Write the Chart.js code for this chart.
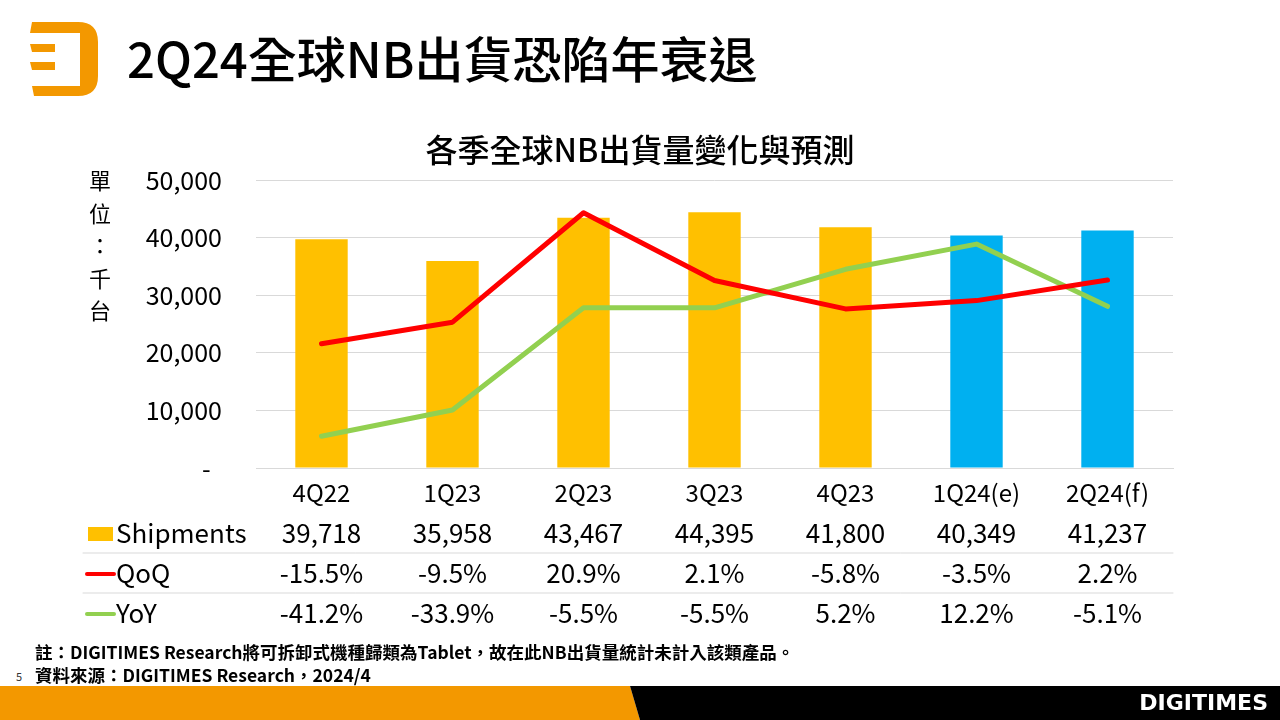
<!DOCTYPE html>
<html>
<head>
<meta charset="utf-8">
<script src="https://cdn.jsdelivr.net/npm/chart.js@4.4.1/dist/chart.umd.min.js"></script>
<style>
html, body { margin: 0; padding: 0; background: #fff; }
body { width: 1280px; height: 720px; position: relative; overflow: hidden; font-family: 'Noto Sans CJK TC', sans-serif; }
#logo { position: absolute; left: 26px; top: 20px; }
#title { position: absolute; left: 127px; top: 27px; font-size: 49px; font-weight: 500; line-height: 60px; color: #000; }
#wrap { position: absolute; left: 0; top: 120px; width: 1280px; height: 520px; }
.note { position: absolute; left: 35px; font-size: 17.5px; font-weight: bold; color: #000; line-height: 22px; white-space: nowrap; }
#page { position: absolute; left: 16px; top: 668px; font-size: 11px; color: #333; }
#bar-o { position: absolute; left: 0; top: 686px; width: 640px; height: 34px; background: #F39800; clip-path: polygon(0 0, 630px 0, 640px 34px, 0 34px); }
#bar-k { position: absolute; left: 630px; top: 686px; width: 650px; height: 34px; background: #000; clip-path: polygon(0 0, 650px 0, 650px 34px, 10px 34px); }
#brand { position: absolute; right: 12px; top: 688px; color: #fff; font-family: 'DejaVu Sans', sans-serif; font-weight: bold; font-size: 22px; line-height: 30px; }
</style>
</head>
<body>
<svg id="logo" width="76" height="80" viewBox="0 0 76 80">
  <path d="M6 2 H52 Q72 2 72 22 V56 Q72 76 52 76 H8 L6 66 H54 V13 H4 Z" fill="#F39800"/>
  <path d="M4 24 H29 V32 H6 Z" fill="#F39800"/>
  <path d="M4 42 H29 V50 H6 Z" fill="#F39800"/>
</svg>
<div id="title">2Q24全球NB出貨恐陷年衰退</div>
<div id="wrap"><canvas id="chart"></canvas></div>
<div class="note" style="top:641px;">註：DIGITIMES Research將可拆卸式機種歸類為Tablet，故在此NB出貨量統計未計入該類產品。</div>
<div id="page">5</div>
<div class="note" style="top:664px;">資料來源：DIGITIMES Research，2024/4</div>
<div id="bar-o"></div>
<div id="bar-k"></div>
<div id="brand">DIGITIMES</div>

<script>
// values
var quarters = ['4Q22', '1Q23', '2Q23', '3Q23', '4Q23', '1Q24(e)', '2Q24(f)'];
var shipments = [39718, 35958, 43467, 44395, 41800, 40349, 41237];
var qoq = [-15.5, -9.5, 20.9, 2.1, -5.8, -3.5, 2.2];
var yoy = [-41.2, -33.9, -5.5, -5.5, 5.2, 12.2, -5.1];
var unitLabel = ['單', '位', '：', '千', '台'];

var ACTUAL = '#FFC000', FORECAST = '#00B0F0';
var FONT = "'Noto Sans CJK TC', sans-serif";

function isForecast(q) { return q.indexOf('(') >= 0; }
function fmtNum(v) { return v.toLocaleString('en-US'); }
function fmtPct(v) { return v.toFixed(1) + '%'; }

// data table under the x axis + stacked unit label
var tablePlugin = {
  id: 'dataTable',
  afterDraw: function(chart) {
    var ctx = chart.ctx, xs = chart.scales.x, area = chart.chartArea;
    var rows = [
      { name: 'Shipments', values: shipments.map(fmtNum), type: 'box', color: ACTUAL },
      { name: 'QoQ', values: qoq.map(fmtPct), type: 'line', color: chart.data.datasets[0].borderColor },
      { name: 'YoY', values: yoy.map(fmtPct), type: 'line', color: chart.data.datasets[1].borderColor }
    ];
    ctx.save();
    ctx.font = '26px ' + FONT;
    ctx.textBaseline = 'middle';
    rows.forEach(function(r, i) {
      var y = area.bottom + 65 + i * 40;
      if (r.type === 'box') {
        ctx.fillStyle = r.color;
        ctx.fillRect(88, y - 6, 25, 14);
      } else {
        ctx.strokeStyle = r.color;
        ctx.lineWidth = 4;
        ctx.lineCap = 'round';
        ctx.beginPath();
        ctx.moveTo(87, y + 1);
        ctx.lineTo(114, y + 1);
        ctx.stroke();
      }
      ctx.fillStyle = '#000';
      ctx.textAlign = 'left';
      ctx.fillText(r.name, 116, y);
      ctx.textAlign = 'center';
      r.values.forEach(function(v, j) {
        ctx.fillText(v, xs.getPixelForValue(j), y);
      });
      if (i > 0) {
        ctx.strokeStyle = '#D9D9D9';
        ctx.lineWidth = 1;
        ctx.beginPath();
        ctx.moveTo(83, y - 20);
        ctx.lineTo(area.right, y - 20);
        ctx.stroke();
      }
    });
    ctx.font = '22px ' + FONT;
    ctx.textAlign = 'center';
    ctx.fillStyle = '#000';
    unitLabel.forEach(function(ch, i) {
      ctx.fillText(ch, 100, area.top + 1 + i * 32.5);
    });
    ctx.restore();
  }
};

var ctx = document.getElementById('chart').getContext('2d');
new Chart(ctx, {
  data: {
    labels: quarters,
    datasets: [
      {
        type: 'line', label: 'QoQ', data: qoq, yAxisID: 'y1', order: 0,
        borderColor: '#FF0000', borderWidth: 5, tension: 0,
        pointRadius: 0, borderCapStyle: 'round', borderJoinStyle: 'round'
      },
      {
        type: 'line', label: 'YoY', data: yoy, yAxisID: 'y1', order: 1,
        borderColor: '#92D050', borderWidth: 5, tension: 0,
        pointRadius: 0, borderCapStyle: 'round', borderJoinStyle: 'round'
      },
      {
        type: 'bar', label: 'Shipments', data: shipments, yAxisID: 'y', order: 2,
        backgroundColor: quarters.map(function(q) { return isForecast(q) ? FORECAST : ACTUAL; }),
        categoryPercentage: 1, barPercentage: 0.4
      }
    ]
  },
  options: {
    responsive: true,
    maintainAspectRatio: false,
    animation: false,
    layout: { padding: 0 },
    plugins: {
      legend: { display: false },
      tooltip: { enabled: false },
      title: {
        display: true,
        text: '各季全球NB出貨量變化與預測',
        color: '#000',
        font: { family: FONT, size: 32, weight: '500', lineHeight: 1.2 },
        padding: { top: 11, bottom: 10.6 }
      }
    },
    scales: {
      x: {
        grid: { display: false, drawTicks: false },
        border: { display: true, color: '#D9D9D9', width: 1 },
        ticks: { color: '#000', padding: 10, font: { family: FONT, size: 24 } },
        afterFit: function(s) { s.height = 172; }
      },
      y: {
        min: 0, max: 50000,
        grid: { color: '#D9D9D9', drawTicks: false },
        border: { display: false },
        ticks: {
          stepSize: 10000, padding: 34, color: '#000',
          font: { family: FONT, size: 25 },
          callback: function(v) { return v === 0 ? '-  ' : fmtNum(v); }
        },
        afterFit: function(s) { s.width = 256; }
      },
      // percent axis for QoQ / YoY, kept invisible like on the slide
      y1: {
        position: 'right', min: -50, max: 30,
        grid: { display: false, drawTicks: false },
        border: { display: false },
        ticks: { display: false },
        afterFit: function(s) { s.width = 107; }
      }
    }
  },
  plugins: [tablePlugin]
});
</script>
</body>
</html>
